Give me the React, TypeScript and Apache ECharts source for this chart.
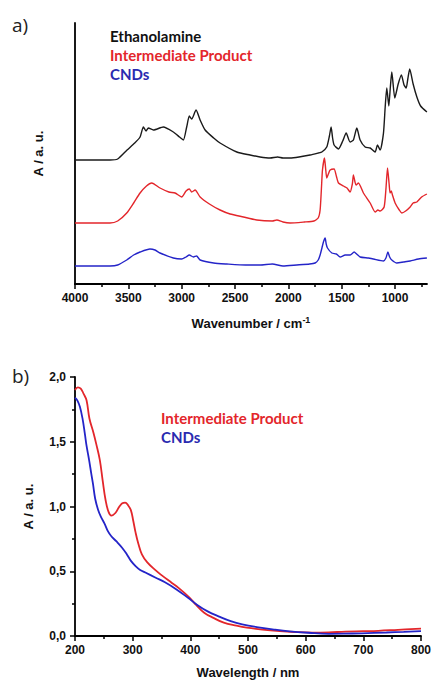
import React, { useEffect, useRef } from "react";
import * as echarts from "echarts";

// ---------- Panel a) FT-IR spectra (wavenumber / cm-1, absorbance in a.u., offset) ----------
const ethanolamineIR: [number, number][] = [
  [4000, 124], [3672, 124], [3600, 125], [3512, 134], [3440, 141], [3390, 147], [3359, 157], [3334, 153],
  [3312, 156], [3265, 154], [3172, 157], [3078, 152], [3020, 147], [2984, 144], [2953, 157], [2928, 168],
  [2906, 165], [2865, 174], [2827, 164], [2780, 154], [2700, 146], [2640, 141], [2483, 132], [2359, 129],
  [2265, 127], [2171, 126], [2100, 127], [2050, 126], [1984, 126], [1900, 127], [1796, 129], [1720, 131],
  [1686, 132], [1640, 137], [1615, 148], [1599, 157], [1585, 146], [1571, 139], [1530, 135], [1490, 143],
  [1458, 151], [1421, 142], [1390, 144], [1358, 156], [1327, 144], [1280, 137], [1233, 136], [1186, 132],
  [1165, 139], [1139, 134], [1108, 151], [1092, 177], [1077, 196], [1058, 178], [1045, 195], [1030, 212],
  [1002, 186], [970, 200], [940, 209], [915, 199], [895, 196], [880, 205], [862, 215], [830, 200],
  [795, 187], [760, 178], [701, 172],
];
const intermediateIR: [number, number][] = [
  [4000, 61], [3672, 61], [3600, 63], [3515, 71], [3450, 81], [3390, 91], [3330, 98], [3281, 101],
  [3203, 96], [3120, 92], [3062, 91], [3000, 87], [2959, 93], [2928, 95], [2906, 92], [2874, 94],
  [2827, 87], [2740, 80], [2640, 74], [2546, 70], [2421, 67], [2296, 64], [2150, 63], [2108, 64],
  [2050, 62], [1984, 61], [1850, 62], [1760, 63], [1720, 66], [1702, 74], [1690, 95], [1680, 114],
  [1661, 126], [1650, 115], [1640, 106], [1625, 110], [1608, 114], [1571, 115], [1550, 108], [1530, 101],
  [1483, 98], [1450, 96], [1421, 92], [1400, 100], [1390, 109], [1375, 102], [1365, 99], [1343, 101],
  [1296, 91], [1233, 81], [1186, 72], [1160, 74], [1139, 73], [1102, 77], [1085, 95], [1070, 116],
  [1055, 100], [1046, 91], [1035, 93], [1024, 89], [999, 81], [960, 74], [936, 71], [900, 73],
  [858, 77], [830, 81], [795, 82], [750, 87], [701, 90],
];
const cndsIR: [number, number][] = [
  [4000, 18], [3672, 18], [3600, 19], [3515, 24], [3450, 29], [3390, 32], [3297, 35], [3250, 34],
  [3203, 31], [3078, 26], [3000, 25], [2960, 27], [2928, 29], [2890, 27], [2860, 28], [2827, 24],
  [2700, 21], [2577, 20], [2400, 19], [2265, 19], [2150, 20], [2050, 18], [1921, 19], [1800, 20],
  [1749, 21], [1720, 24], [1702, 29], [1685, 36], [1671, 42], [1655, 46], [1645, 40], [1633, 36],
  [1592, 31], [1550, 30], [1514, 27], [1467, 29], [1420, 29], [1383, 32], [1360, 30], [1327, 27],
  [1250, 26], [1202, 25], [1108, 23], [1085, 26], [1067, 32], [1050, 27], [1030, 24], [983, 21],
  [920, 22], [858, 23], [780, 25], [701, 26],
];
const irMajorTicks = [1000, 1500, 2000, 2500, 3000, 3500, 4000];
const irMinorTicks = [750, 1250, 1750, 2250, 2750, 3250, 3750];

// ---------- Panel b) UV-Vis spectra (wavelength / nm, A / a.u.) ----------
const intermediateUV: [number, number][] = [
  [200, 1.90], [205, 1.92], [210, 1.91], [215, 1.87], [220, 1.82], [225, 1.68], [232, 1.57], [237, 1.48],
  [243, 1.36], [248, 1.20], [253, 1.05], [258, 0.96], [263, 0.93], [270, 0.95], [277, 1.0], [282, 1.025],
  [287, 1.03], [292, 1.01], [297, 0.97], [301, 0.89], [305, 0.80], [310, 0.71], [316, 0.63], [325, 0.57],
  [339, 0.51], [350, 0.47], [368, 0.41], [380, 0.37], [399, 0.295], [410, 0.24], [424, 0.18], [440, 0.14],
  [458, 0.103], [480, 0.08], [498, 0.065], [525, 0.05], [555, 0.038], [580, 0.031], [612, 0.026], [640, 0.028],
  [669, 0.034], [700, 0.037], [726, 0.040], [760, 0.048], [800, 0.057],
];
const cndsUV: [number, number][] = [
  [200, 1.84], [204, 1.82], [208.5, 1.77], [213, 1.68], [217, 1.565], [220, 1.47], [224.4, 1.36], [228, 1.26],
  [231, 1.18], [235, 1.06], [240, 0.975], [245, 0.92], [251, 0.87], [257, 0.81], [263, 0.77], [272, 0.73],
  [282, 0.68], [290, 0.63], [297, 0.58], [305, 0.54], [313, 0.51], [322, 0.49], [340, 0.45], [356, 0.415],
  [376, 0.36], [396, 0.295], [412, 0.24], [430, 0.19], [450, 0.15], [470, 0.115], [490, 0.09], [515, 0.069],
  [545, 0.05], [572, 0.036], [605, 0.025], [640, 0.017], [665, 0.018], [697, 0.021], [740, 0.027], [770, 0.032],
  [800, 0.038],
];

const BLACK = "#1a1a1a";
const RED = "#e3262b";
const BLUE = "#2424c8";
const AXIS_FONT = "Liberation Sans, Arial, sans-serif";
const LEGEND_FONT = "Lato, Open Sans, sans-serif";

export default function App() {
  const ref = useRef<HTMLDivElement>(null);

  useEffect(() => {
    if (!ref.current) return;
    const chart = echarts.init(ref.current, undefined, { renderer: "svg" });
    const axisLine = { show: true, onZero: false, lineStyle: { color: "#000", width: 1.8 } };
    const tickLabel = { color: "#111", fontFamily: AXIS_FONT, fontWeight: "bold" as const, fontSize: 12 };
    const nameStyle = { color: "#111", fontFamily: AXIS_FONT, fontWeight: "bold" as const, fontSize: 13 };

    chart.setOption({
      animation: false,
      backgroundColor: "#fff",
      grid: [
        { left: 75, top: 23, width: 352, height: 261 },
        { left: 75, top: 377, width: 352, height: 260 },
      ],
      xAxis: [
        {
          gridIndex: 0, type: "value", inverse: true, min: 700, max: 4000,
          axisLine,
          axisTick: { show: true, length: 5, customValues: irMajorTicks, lineStyle: { color: "#000", width: 1.5 } },
          axisLabel: { ...tickLabel, margin: 8, customValues: irMajorTicks, formatter: (v: number) => String(v) },
          splitLine: { show: false },
          name: "Wavenumber / cm{sup|-1}",
          nameLocation: "middle", nameGap: 31,
          nameTextStyle: { ...nameStyle, rich: { sup: { ...nameStyle, fontSize: 9, verticalAlign: "top", padding: [0, 0, 8, 0] } } },
        },
        {
          gridIndex: 0, type: "value", inverse: true, min: 700, max: 4000, position: "bottom",
          axisLine: { show: false },
          axisTick: { show: true, length: 3, customValues: irMinorTicks, lineStyle: { color: "#000", width: 1.5 } },
          axisLabel: { show: false },
          splitLine: { show: false },
        },
        {
          gridIndex: 1, type: "value", min: 200, max: 800, interval: 100,
          axisLine,
          axisTick: { show: true, length: 5, lineStyle: { color: "#000", width: 1.5 } },
          minorTick: { show: true, splitNumber: 2, length: 3, lineStyle: { color: "#000", width: 1.5 } },
          axisLabel: { ...tickLabel, margin: 8, showMaxLabel: true, formatter: (v: number) => String(v) },
          splitLine: { show: false },
          name: "Wavelength / nm",
          nameLocation: "middle", nameGap: 30,
          nameTextStyle: nameStyle,
        },
      ],
      yAxis: [
        {
          gridIndex: 0, type: "value", min: 0, max: 261,
          axisLine,
          axisTick: { show: false },
          axisLabel: { show: false },
          splitLine: { show: false },
          name: "A / a. u.",
          nameLocation: "middle", nameGap: 30,
          nameTextStyle: nameStyle,
        },
        {
          gridIndex: 1, type: "value", min: 0, max: 2, interval: 0.5,
          axisLine,
          axisTick: { show: true, length: 5, lineStyle: { color: "#000", width: 1.5 } },
          minorTick: { show: true, splitNumber: 2, length: 3, lineStyle: { color: "#000", width: 1.5 } },
          axisLabel: { ...tickLabel, margin: 9, formatter: (v: number) => v.toFixed(1).replace(".", ",") },
          splitLine: { show: false },
          name: "A / a. u.",
          nameLocation: "middle", nameGap: 40,
          nameTextStyle: nameStyle,
        },
      ],
      series: [
        { type: "line", xAxisIndex: 0, yAxisIndex: 0, data: ethanolamineIR, showSymbol: false, smooth: 0.2, lineStyle: { color: BLACK, width: 1.4 } },
        { type: "line", xAxisIndex: 0, yAxisIndex: 0, data: intermediateIR, showSymbol: false, smooth: 0.2, lineStyle: { color: RED, width: 1.4 } },
        { type: "line", xAxisIndex: 0, yAxisIndex: 0, data: cndsIR, showSymbol: false, smooth: 0.2, lineStyle: { color: BLUE, width: 1.4 } },
        { type: "line", xAxisIndex: 2, yAxisIndex: 1, data: intermediateUV, showSymbol: false, smooth: 0.4, lineStyle: { color: RED, width: 1.8 } },
        { type: "line", xAxisIndex: 2, yAxisIndex: 1, data: cndsUV, showSymbol: false, smooth: 0.4, lineStyle: { color: BLUE, width: 1.8 } },
      ],
      graphic: [
        { type: "text", left: 12, top: 15, style: { text: "a)", fontSize: 19, fontFamily: "Open Sans, sans-serif", fill: "#222" } },
        { type: "text", left: 12, top: 366, style: { text: "b)", fontSize: 19, fontFamily: "Open Sans, sans-serif", fill: "#222" } },
        { type: "text", left: 110, top: 28, style: { text: "Ethanolamine", fontSize: 15, fontWeight: "bold", fontFamily: LEGEND_FONT, fill: "#111" } },
        { type: "text", left: 110, top: 47, style: { text: "Intermediate Product", fontSize: 15, fontWeight: "bold", fontFamily: LEGEND_FONT, fill: RED } },
        { type: "text", left: 110, top: 66, style: { text: "CNDs", fontSize: 15, fontWeight: "bold", fontFamily: LEGEND_FONT, fill: "#2a2ab0" } },
        { type: "text", left: 161, top: 410, style: { text: "Intermediate Product", fontSize: 15, fontWeight: "bold", fontFamily: LEGEND_FONT, fill: RED } },
        { type: "text", left: 161, top: 429, style: { text: "CNDs", fontSize: 15, fontWeight: "bold", fontFamily: LEGEND_FONT, fill: "#2a2ab0" } },
      ],
    });
    return () => chart.dispose();
  }, []);

  return (
    <div
      ref={ref}
      style={{ position: "absolute", left: 0, top: 0, width: 434, height: 680, background: "#fff" }}
    />
  );
}
